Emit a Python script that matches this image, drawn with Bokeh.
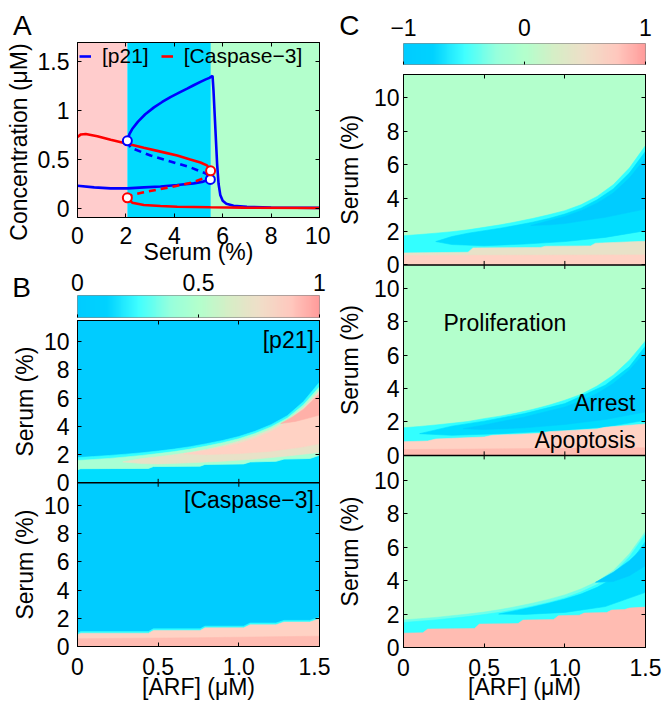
import numpy as np
from bokeh.plotting import figure
from bokeh.layouts import column, row
from bokeh.models import (Range1d, LinearAxis, FixedTicker, Label, Legend, LegendItem, Span,
                          LinearColorMapper, BoxAnnotation, CustomJSTickFormatter, ColumnDataSource)
from bokeh.core.properties import value
from bokeh.transform import dodge
from bokeh.embed import file_html
from bokeh.resources import INLINE

FONT = "Liberation Sans"
FS = "23px"

# ---------------- Panel A : steady states vs serum ----------------
fate_edges = [0.0, 2.06, 5.51, 10.0]
fate_colors = ["#FFCCCC", "#00DAFF", "#B3FFCC"]

p21_hi_x = [2.06, 2.15, 2.26, 2.5, 2.8, 3.16, 3.5, 3.84, 4.2, 4.53, 4.8, 5.08, 5.3, 5.45, 5.58, 5.62, 5.67, 5.72, 5.77, 5.83, 5.9, 6.0, 6.15, 6.45, 7.0, 8.0, 10.0]
p21_hi_y = [0.69, 0.76, 0.81, 0.885, 0.96, 1.03, 1.085, 1.135, 1.18, 1.22, 1.255, 1.29, 1.315, 1.33, 1.35, 1.20, 0.95, 0.70, 0.45, 0.25, 0.14, 0.08, 0.05, 0.03, 0.018, 0.012, 0.008]
p21_lo_x = [0.0, 0.69, 1.37, 2.06, 2.74, 3.43, 4.12, 4.80, 5.2, 5.49]
p21_lo_y = [0.233, 0.216, 0.206, 0.206, 0.216, 0.226, 0.24, 0.257, 0.275, 0.297]
p21_un_x = [2.06, 2.19, 3.02, 3.84, 4.66, 5.28, 5.45, 5.49]
p21_un_y = [0.69, 0.62, 0.54, 0.48, 0.42, 0.36, 0.33, 0.297]
casp_hi_x = [0.0, 0.14, 0.34, 0.82, 1.37, 2.06, 2.74, 3.43, 4.12, 4.66, 5.08, 5.35, 5.50]
casp_hi_y = [0.73, 0.755, 0.76, 0.736, 0.70, 0.66, 0.62, 0.58, 0.54, 0.50, 0.47, 0.44, 0.385]
casp_un_x = [5.50, 5.35, 4.80, 4.12, 3.43, 2.74, 2.26, 2.06]
casp_un_y = [0.385, 0.324, 0.27, 0.233, 0.20, 0.166, 0.139, 0.11]
casp_lo_x = [2.06, 2.26, 2.74, 3.43, 4.12, 5.49, 6.86, 10.0]
casp_lo_y = [0.11, 0.061, 0.037, 0.027, 0.020, 0.0135, 0.01, 0.007]
fold_p21_x = [2.06, 5.49]
fold_p21_y = [0.69, 0.297]
fold_casp_x = [5.50, 2.06]
fold_casp_y = [0.385, 0.11]

A_xticks = [0, 2, 4, 6, 8, 10]
A_xlabels = ["0", "2", "4", "6", "8", "10"]
A_yticks = [0, 0.5, 1, 1.5]
A_ylabels = ["0", "0.5", "1", "1.5"]

# ---------------- heatmap panels (x = ARF uM, y = serum %) ----------------
ARF = [0, 0.1, 0.2, 0.3, 0.4, 0.5, 0.6, 0.7, 0.8, 0.9, 1.0, 1.1, 1.2, 1.3, 1.4, 1.5]
STEP_X = [0, 0.02, 0.44, 0.47, 0.76, 0.79, 1.03, 1.07, 1.23, 1.28, 1.44, 1.5]
X_TICKS = [0, 0.5, 1.0, 1.5]
X_LABELS = ["0", "0.5", "1.0", "1.5"]
Y_TICKS = [0, 2, 4, 6, 8, 10]
Y_LABELS = ["0", "2", "4", "6", "8", "10"]

# stacked panels: serum span of each panel (bottom panel first)
B_SPANS = [11.6, 11.5]          # B2 [Caspase-3], B1 [p21]
C_SPANS = [11.5, 11.4, 11.4]    # C3, C2, C1

CYAN_DEEP = "#00CCFF"
CYAN_MID = "#00DDFF"
CYAN_BRIGHT = "#33FFFF"
AQUA_PALE = "#70FFEA"
GREEN_LIGHT = "#A8FFD4"
GREEN = "#B3FFCC"
BEIGE = "#E8E2C8"
PINK = "#FFD2C4"
PINK_DEEP = "#FFBCB2"
SALMON = "#FFB0A8"

# B1 : [p21]
b1_edge_top = [1.79, 1.86, 1.94, 2.03, 2.13, 2.25, 2.39, 2.56, 2.77, 3.0, 3.28, 3.65, 4.12, 4.75, 5.75, 7.13]
b1_green_top = [1.58, 1.65, 1.73, 1.83, 1.94, 2.07, 2.21, 2.39, 2.6, 2.84, 3.12, 3.49, 3.96, 4.58, 5.52, 6.8]
b1_band_bot = [0.92, 1.0, 1.02, 1.15, 1.18, 1.3, 1.34, 1.48, 1.52, 1.68, 1.72, 1.95]
b1_beige_top_x = [0.28, 0.4, 0.5, 0.6, 0.7, 0.8, 0.9, 1.0, 1.1, 1.2, 1.3, 1.4, 1.5]
b1_beige_top_y = [1.48, 1.72, 1.85, 1.99, 2.16, 2.37, 2.63, 2.95, 3.32, 3.8, 4.42, 5.33, 6.55]
b1_beige_bot_x = [0.28, 0.4, 0.5, 0.7, 0.9, 1.1, 1.3, 1.5]
b1_beige_bot_y = [1.48, 1.36, 1.34, 1.42, 1.53, 1.68, 1.9, 2.15]
b1_pink_top_x = [0.66, 0.8, 0.9, 1.0, 1.1, 1.2, 1.3, 1.4, 1.5]
b1_pink_top_y = [2.05, 2.3, 2.52, 2.78, 3.14, 3.63, 4.25, 5.18, 6.45]
b1_pink_bot_x = [0.66, 0.8, 1.0, 1.2, 1.4, 1.5]
b1_pink_bot_y = [2.05, 2.0, 2.07, 2.24, 2.55, 2.78]
b1_salmon_top_x = [1.26, 1.33, 1.4, 1.45, 1.5]
b1_salmon_top_y = [4.2, 4.65, 5.2, 5.75, 6.3]
b1_salmon_bot_x = [1.26, 1.35, 1.42, 1.5]
b1_salmon_bot_y = [4.2, 4.35, 4.55, 4.8]

# B2 : [Caspase-3]
b2_edge_top = [0.95, 1.06, 1.06, 1.25, 1.25, 1.44, 1.44, 1.66, 1.66, 1.85, 1.85, 2.08]
b2_pink_top = [0.83, 0.94, 0.94, 1.13, 1.13, 1.32, 1.32, 1.54, 1.54, 1.73, 1.73, 1.96]
b2_salmon_x = [0, 0.75, 1.5]
b2_salmon_top = [0.55, 0.62, 0.73]

# C1
c1_bright_top = [1.75, 1.82, 1.9, 1.99, 2.1, 2.25, 2.4, 2.58, 2.78, 3.0, 3.25, 3.6, 4.1, 4.8, 5.8, 7.15]
c1_mid_top_x = [0.2, 0.3, 0.4, 0.5, 0.6, 0.7, 0.8, 0.9, 1.0, 1.1, 1.2, 1.3, 1.4, 1.5]
c1_mid_top_y = [1.4, 1.7, 1.9, 2.05, 2.2, 2.37, 2.56, 2.78, 3.05, 3.4, 3.9, 4.55, 5.5, 6.8]
c1_mid_bot_x = [0.2, 0.3, 0.5, 0.75, 1.0, 1.25, 1.5]
c1_mid_bot_y = [1.4, 1.22, 1.15, 1.25, 1.4, 1.65, 2.05]
c1_deep_top_x = [0.79, 0.9, 1.0, 1.1, 1.2, 1.3, 1.4, 1.5]
c1_deep_top_y = [2.36, 2.65, 2.9, 3.25, 3.7, 4.3, 5.2, 6.4]
c1_deep_bot_x = [0.79, 0.9, 1.0, 1.25, 1.5]
c1_deep_bot_y = [2.36, 2.4, 2.48, 2.85, 3.35]
c1_beige_x = [0, 0.4, 0.43, 0.85, 0.88, 1.16, 1.19, 1.5]
c1_beige_top = [0.72, 0.76, 1.02, 1.05, 1.12, 1.14, 1.3, 1.42]
c1_pink_x = [0, 1.5]
c1_pink_top = [0.56, 0.6]

# C2
c2_bright_top = [1.65, 1.73, 1.82, 1.92, 2.03, 2.2, 2.35, 2.53, 2.75, 3.0, 3.3, 3.65, 4.15, 4.8, 5.7, 6.85]
c2_mid_top_x = [0.1, 0.3, 0.5, 0.75, 1.0, 1.25, 1.4, 1.5]
c2_mid_top_y = [1.3, 1.75, 2.05, 2.5, 3.1, 4.2, 5.3, 6.55]
c2_mid_bot_x = [0.1, 0.3, 0.6, 1.0, 1.25, 1.5]
c2_mid_bot_y = [1.3, 1.2, 1.3, 1.5, 1.7, 2.1]
c2_deep_top_x = [0.37, 0.5, 0.75, 1.0, 1.1, 1.2, 1.3, 1.4, 1.5]
c2_deep_top_y = [1.6, 1.82, 2.3, 2.9, 3.25, 3.7, 4.3, 5.1, 6.2]
c2_deep_bot_x = [0.37, 0.5, 0.75, 1.0, 1.25, 1.5]
c2_deep_bot_y = [1.6, 1.55, 1.65, 1.85, 2.15, 2.6]
c2_pink_x = [0, 0.15, 0.2, 0.5, 0.55, 0.85, 0.9, 1.2, 1.25, 1.5]
c2_pink_top = [0.82, 0.86, 0.98, 1.1, 1.2, 1.32, 1.42, 1.58, 1.68, 1.88]
c2_salmon_x = [0, 1.5]
c2_salmon_top = [0.35, 0.45]

# C3
c3_outer_top = [1.65, 1.72, 1.8, 1.9, 2.0, 2.12, 2.27, 2.45, 2.65, 2.88, 3.15, 3.5, 3.95, 4.6, 5.6, 6.95]
c3_bright_top = [1.5, 1.57, 1.65, 1.75, 1.85, 1.97, 2.11, 2.28, 2.48, 2.7, 2.97, 3.32, 3.77, 4.42, 5.42, 6.78]
c3_mid_top_x = [0.59, 0.7, 0.8, 0.9, 1.0, 1.1, 1.2, 1.3, 1.4, 1.5]
c3_mid_top_y = [2.0, 2.22, 2.42, 2.65, 2.9, 3.2, 3.6, 4.15, 5.0, 6.35]
c3_mid_bot_x = [0.59, 0.75, 1.0, 1.25, 1.5]
c3_mid_bot_y = [2.0, 1.98, 2.1, 2.45, 3.3]
c3_deep_top_x = [1.19, 1.3, 1.4, 1.5]
c3_deep_top_y = [3.9, 4.5, 5.2, 6.1]
c3_deep_bot_x = [1.19, 1.3, 1.4, 1.5]
c3_deep_bot_y = [3.9, 3.95, 4.3, 4.9]
c3_salmon_x = [0, 0.12, 0.15, 0.44, 0.47, 0.71, 0.74, 0.93, 0.96, 1.09, 1.12, 1.26, 1.29, 1.37, 1.4, 1.5]
c3_salmon_top = [0.86, 0.88, 1.1, 1.13, 1.4, 1.43, 1.64, 1.67, 1.9, 1.93, 2.06, 2.09, 2.24, 2.27, 2.36, 2.42]

FLOOR_X = [0, 1.5]
FLOOR_Y = [0, 0]

# colour map (colorbars)
cmap_pos = [0.0, 0.12, 0.25, 0.38, 0.5, 0.62, 0.75, 0.88, 1.0]
cmap_col = ["#00CCFF", "#00D2FF", "#40FFFF", "#96FFDD", "#B3FFCC", "#D6EEC6", "#F0DEC8", "#FFC8BE", "#FF9A9A"]
cbB_ticks = [0, 0.5, 1]
cbB_labels = ["0", "0.5", "1"]
cbC_ticks = [-1, 0, 1]
cbC_labels = ["\u22121", "0", "1"]

# view windows of the strips above the panels (colour bar itself spans 0..1 vertically)
CB_B_XR = (-0.3182, 1.0455)
CB_B_YR = (-0.0455, 2.1364)
CB_B_LABEL_Y = 1.57
CB_C_XR = (-1.6033, 1.1653)
CB_C_YR = (-0.0952, 3.0476)
CB_C_LABEL_Y = 1.74


def build_palette(n=256):
    rgb = np.array([[int(c[i:i + 2], 16) for i in (1, 3, 5)] for c in cmap_col], dtype=float)
    out = []
    for v in np.linspace(0, 1, n):
        r, g, b = (np.interp(v, cmap_pos, rgb[:, k]) for k in range(3))
        out.append("#%02x%02x%02x" % (int(round(r)), int(round(g)), int(round(b))))
    return out


PALETTE = build_palette()


def frame(w, h, xr, yr, left, right, top, bottom, bg="white", outline="black"):
    p = figure(width=w, height=h, x_range=Range1d(*xr), y_range=Range1d(*yr),
               output_backend="svg", toolbar_location=None, tools="",
               x_axis_location=None, y_axis_location=None,
               min_border_left=left, min_border_right=right,
               min_border_top=top, min_border_bottom=bottom)
    p.background_fill_color = bg
    p.border_fill_color = "white"
    p.outline_line_color = outline
    p.outline_line_width = 1
    p.xgrid.visible = False
    p.ygrid.visible = False
    return p


def strip(w, h, xr, yr):
    p = frame(w, h, xr, yr, 0, 0, 0, 0, outline=None)
    try:
        p.frame_align = False
    except Exception:
        pass
    return p


def axis(p, side, ticks, labels=None, title=None, standoff=0, title_standoff=0, tick_in=4):
    ax = LinearAxis(ticker=FixedTicker(ticks=list(ticks)))
    ax.major_tick_in = tick_in
    ax.major_tick_out = 0
    ax.minor_tick_line_color = None
    ax.axis_line_color = "black"
    ax.major_tick_line_color = "black"
    if labels is None:
        ax.formatter = CustomJSTickFormatter(code="return '';")
        ax.major_label_text_font_size = "0px"
        ax.major_label_standoff = 0
    else:
        ax.formatter = CustomJSTickFormatter(
            args=dict(tv=list(ticks), tl=list(labels)),
            code="const i = tv.indexOf(tick); return i >= 0 ? tl[i] : '';")
        ax.major_label_text_font = FONT
        ax.major_label_text_font_size = FS
        ax.major_label_text_color = "black"
        ax.major_label_standoff = standoff
    if title:
        ax.axis_label = title
        ax.axis_label_text_font = FONT
        ax.axis_label_text_font_size = FS
        ax.axis_label_text_font_style = "normal"
        ax.axis_label_text_color = "black"
        ax.axis_label_standoff = title_standoff
    p.add_layout(ax, side)
    return ax


def side_titles(p, positions, titles, standoff):
    # rotated y titles, each centred at a chosen position of the left axis
    ax = LinearAxis(ticker=FixedTicker(ticks=list(positions)))
    ax.formatter = CustomJSTickFormatter(
        args=dict(tv=list(positions), tl=list(titles)),
        code="const i = tv.indexOf(tick); return i >= 0 ? tl[i] : '';")
    ax.major_label_orientation = "vertical"
    ax.major_tick_in = 0
    ax.major_tick_out = 0
    ax.major_tick_line_color = None
    ax.minor_tick_line_color = None
    ax.axis_line_color = None
    ax.major_label_text_font = FONT
    ax.major_label_text_font_size = FS
    ax.major_label_text_color = "black"
    ax.major_label_standoff = standoff
    p.add_layout(ax, "left")


def band(p, ux, uy, lx, ly, color, base):
    src = ColumnDataSource(dict(x=list(ux) + list(lx)[::-1], y=list(uy) + list(ly)[::-1]))
    p.patch(x="x", y=dodge("y", base), source=src, fill_color=color, line_color=color, line_width=0.6)


def inner_ticks(p, bases, dy):
    # x tick marks on the shared edge between stacked panels
    for b in bases:
        p.segment(x0=X_TICKS, y0=[b - dy] * len(X_TICKS), x1=X_TICKS, y1=[b + dy] * len(X_TICKS),
                  line_color="black", line_width=1)


def text(p, x, y, s, align="left", size=FS):
    p.add_layout(Label(x=x, y=y, text=s, text_align=align, text_baseline="middle",
                       text_font=FONT, text_font_size=size, text_color="black"))


def letter(p, x, y, s):
    p.text(x=[x], y=[y], text=[s], text_align="left", text_baseline="middle",
           text_font=value(FONT), text_font_size="28px", text_color="black")


def colorbar_strip(w, h, xr, yr, low, high, ticks, labels, label_y, let, let_x, let_y):
    p = strip(w, h, xr, yr)
    p.image(image=[np.array([np.linspace(low, high, 256)])], x=low, y=0, dw=high - low, dh=1,
            color_mapper=LinearColorMapper(palette=PALETTE, low=low, high=high))
    p.add_layout(BoxAnnotation(left=low, right=high, bottom=0, top=1, fill_alpha=0,
                               line_color="black", line_width=1))
    p.segment(x0=list(ticks), y0=[0] * len(ticks), x1=list(ticks), y1=[0.14] * len(ticks),
              line_color="black", line_width=1)
    src = ColumnDataSource(dict(x=list(ticks), y=[label_y] * len(ticks), t=list(labels)))
    p.text(x="x", y="y", text="t", source=src, text_align="center", text_baseline="middle",
           text_font=value(FONT), text_font_size=FS, text_color="black")
    letter(p, let_x, let_y, let)
    return p


# ---------------- A ----------------
stA = strip(330, 41, (0, 1), (0, 1))
letter(stA, 0.038, 0.39, "A")

pA = frame(330, 229, (0, 10), (-0.09, 1.69), 77, 11, 1, 53)
for i, c in enumerate(fate_colors):
    pA.add_layout(BoxAnnotation(left=fate_edges[i], right=fate_edges[i + 1], fill_color=c,
                                fill_alpha=1, line_color=None, level="underlay"))
LW = 2.6
BLUE, RED = "#0000FF", "#FF0000"
r_p21 = pA.line(p21_hi_x, p21_hi_y, line_color=BLUE, line_width=LW)
pA.line(p21_lo_x, p21_lo_y, line_color=BLUE, line_width=LW)
pA.line(p21_un_x, p21_un_y, line_color=BLUE, line_width=LW, line_dash="7 5")
r_casp = pA.line(casp_hi_x, casp_hi_y, line_color=RED, line_width=LW)
pA.line(casp_lo_x, casp_lo_y, line_color=RED, line_width=LW)
pA.line(casp_un_x, casp_un_y, line_color=RED, line_width=LW, line_dash="7 5")
pA.scatter(fold_p21_x, fold_p21_y, marker="circle", size=9, fill_color="white", line_color=BLUE, line_width=2)
pA.scatter(fold_casp_x, fold_casp_y, marker="circle", size=9, fill_color="white", line_color=RED, line_width=2)
leg = Legend(items=[LegendItem(label="[p21]", renderers=[r_p21]),
                    LegendItem(label="[Caspase\u22123]", renderers=[r_casp])],
             orientation="horizontal", location="top_left", margin=0, padding=2, spacing=12,
             label_standoff=11, glyph_width=12, glyph_height=20,
             label_text_font=FONT, label_text_font_size="21px", label_text_color="black",
             background_fill_alpha=0, border_line_alpha=0)
pA.add_layout(leg)
axis(pA, "below", A_xticks, A_xlabels, "Serum (%)", standoff=9, title_standoff=-8)
axis(pA, "left", A_yticks, A_ylabels, standoff=8)
side_titles(pA, [0.678], ["Concentration (\u03bcM)"], 2)
axis(pA, "above", A_xticks)
axis(pA, "right", A_yticks)

# ---------------- B colorbar strip ----------------
cbB = colorbar_strip(330, 48, CB_B_XR, CB_B_YR, 0, 1, cbB_ticks, cbB_labels, CB_B_LABEL_Y,
                     "B", -0.27, 1.36)

# ---------------- B heatmaps (stacked) ----------------
b_base = [0.0, B_SPANS[0]]
pB = frame(330, 387, (0, 1.5), (0, sum(B_SPANS)), 77, 11, 2, 59, bg=CYAN_DEEP)
# B2 : [Caspase-3]
band(pB, STEP_X, b2_edge_top, FLOOR_X, FLOOR_Y, CYAN_BRIGHT, b_base[0])
band(pB, STEP_X, b2_pink_top, FLOOR_X, FLOOR_Y, PINK, b_base[0])
band(pB, b2_salmon_x, b2_salmon_top, FLOOR_X, FLOOR_Y, PINK_DEEP, b_base[0])
# B1 : [p21]
band(pB, STEP_X, b1_band_bot, FLOOR_X, FLOOR_Y, CYAN_MID, b_base[1])
band(pB, ARF, b1_edge_top, STEP_X, b1_band_bot, CYAN_BRIGHT, b_base[1])
band(pB, ARF, b1_green_top, STEP_X, b1_band_bot, GREEN_LIGHT, b_base[1])
band(pB, b1_beige_top_x, b1_beige_top_y, b1_beige_bot_x, b1_beige_bot_y, BEIGE, b_base[1])
band(pB, b1_pink_top_x, b1_pink_top_y, b1_pink_bot_x, b1_pink_bot_y, PINK, b_base[1])
band(pB, b1_salmon_top_x, b1_salmon_top_y, b1_salmon_bot_x, b1_salmon_bot_y, SALMON, b_base[1])
pB.add_layout(Span(location=b_base[1], dimension="width", line_color="black", line_width=1.5))
inner_ticks(pB, b_base[1:], 0.28)
bY = [b + t for b in b_base for t in Y_TICKS]
axis(pB, "left", bY, Y_LABELS * 2, standoff=8)
side_titles(pB, [b + s / 2 for b, s in zip(b_base, B_SPANS)], ["Serum (%)"] * 2, 2)
axis(pB, "below", X_TICKS, X_LABELS, "[ARF] (\u03bcM)", standoff=11, title_standoff=-4)
axis(pB, "above", X_TICKS)
axis(pB, "right", bY)
text(pB, 1.465, b_base[1] + 10.13, "[p21]", align="right")
text(pB, 1.465, b_base[0] + 10.36, "[Caspase\u22123]", align="right")

# ---------------- C colorbar strip ----------------
cbC = colorbar_strip(335, 66, CB_C_XR, CB_C_YR, -1, 1, cbC_ticks, cbC_labels, CB_C_LABEL_Y,
                     "C", -1.53, 1.86)

# ---------------- C heatmaps (stacked) ----------------
c_base = [0.0, C_SPANS[0], C_SPANS[0] + C_SPANS[1]]
pC = frame(335, 639, (0, 1.5), (0, sum(C_SPANS)), 73, 20, 8, 58, bg=GREEN)
# C3 (bottom)
band(pC, ARF, c3_outer_top, FLOOR_X, FLOOR_Y, AQUA_PALE, c_base[0])
band(pC, ARF, c3_bright_top, FLOOR_X, FLOOR_Y, CYAN_BRIGHT, c_base[0])
band(pC, c3_mid_top_x, c3_mid_top_y, c3_mid_bot_x, c3_mid_bot_y, CYAN_MID, c_base[0])
band(pC, c3_deep_top_x, c3_deep_top_y, c3_deep_bot_x, c3_deep_bot_y, CYAN_DEEP, c_base[0])
band(pC, c3_salmon_x, c3_salmon_top, FLOOR_X, FLOOR_Y, PINK_DEEP, c_base[0])
# C2 (middle)
band(pC, ARF, c2_bright_top, FLOOR_X, FLOOR_Y, CYAN_BRIGHT, c_base[1])
band(pC, c2_mid_top_x, c2_mid_top_y, c2_mid_bot_x, c2_mid_bot_y, CYAN_MID, c_base[1])
band(pC, c2_deep_top_x, c2_deep_top_y, c2_deep_bot_x, c2_deep_bot_y, CYAN_DEEP, c_base[1])
band(pC, c2_pink_x, c2_pink_top, FLOOR_X, FLOOR_Y, PINK, c_base[1])
band(pC, c2_salmon_x, c2_salmon_top, FLOOR_X, FLOOR_Y, PINK_DEEP, c_base[1])
# C1 (top)
band(pC, ARF, c1_bright_top, FLOOR_X, FLOOR_Y, CYAN_BRIGHT, c_base[2])
band(pC, c1_mid_top_x, c1_mid_top_y, c1_mid_bot_x, c1_mid_bot_y, CYAN_MID, c_base[2])
band(pC, c1_deep_top_x, c1_deep_top_y, c1_deep_bot_x, c1_deep_bot_y, CYAN_DEEP, c_base[2])
band(pC, c1_beige_x, c1_beige_top, FLOOR_X, FLOOR_Y, BEIGE, c_base[2])
band(pC, c1_pink_x, c1_pink_top, FLOOR_X, FLOOR_Y, PINK, c_base[2])
for b in c_base[1:]:
    pC.add_layout(Span(location=b, dimension="width", line_color="black", line_width=1.5))
inner_ticks(pC, c_base[1:], 0.24)
cY = [b + t for b in c_base for t in Y_TICKS]
axis(pC, "left", cY, Y_LABELS * 3, standoff=4)
side_titles(pC, [b + s / 2 for b, s in zip(c_base, C_SPANS)], ["Serum (%)"] * 3, 7)
axis(pC, "below", X_TICKS, X_LABELS, "[ARF] (\u03bcM)", standoff=11, title_standoff=-5)
axis(pC, "above", X_TICKS)
axis(pC, "right", cY)
text(pC, 0.248, c_base[1] + 7.91, "Proliferation")
text(pC, 1.438, c_base[1] + 3.13, "Arrest", align="right")
text(pC, 1.438, c_base[1] + 0.94, "Apoptosis", align="right")

left = column(stA, pA, cbB, pB, spacing=0)
right = column(cbC, pC, spacing=0)
layout = row(left, right, spacing=0)

open("out.html", "w").write(file_html(layout, INLINE))
